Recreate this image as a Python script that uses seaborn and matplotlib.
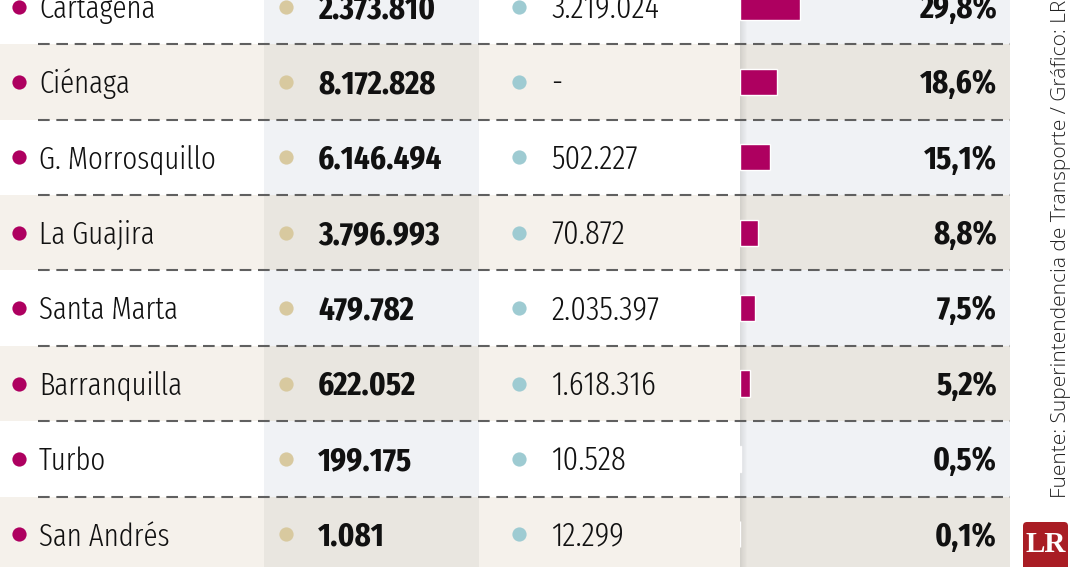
import matplotlib
matplotlib.use("Agg")
import matplotlib.pyplot as plt
from matplotlib.patches import Rectangle, FancyBboxPatch
import seaborn as sns
import pandas as pd

# datos
puertos = ["Cartagena", "Ciénaga", "G. Morrosquillo", "La Guajira",
           "Santa Marta", "Barranquilla", "Turbo", "San Andrés"]
carga_a = ["2.373.810", "8.172.828", "6.146.494", "3.796.993",
           "479.782", "622.052", "199.175", "1.081"]
carga_b = ["3.219.024", "-", "502.227", "70.872",
           "2.035.397", "1.618.316", "10.528", "12.299"]
participacion = [29.8, 18.6, 15.1, 8.8, 7.5, 5.2, 0.5, 0.1]
fuente = "Fuente: Superintendencia de Transporte / Gráfico: LR"

df = pd.DataFrame({"puerto": puertos, "participacion": participacion})

sns.set_style("white")
COND = ["Fira Sans Extra Condensed", "DejaVu Sans"]

MAGENTA = "#ae0060"
TAN = "#d8c99f"
BLUE = "#9ecbd2"
W, H = 1080, 567
ROW0, PITCH = 6.5, 75.4        # centre of first row and row pitch in px
y_top = -ROW0 / PITCH
y_bot = (H - ROW0) / PITCH

# column edges in px
c1, c2, c3, c4, c5 = 0, 264, 479, 740, 1010

fig = plt.figure(figsize=(W / 100, H / 100), dpi=100)
ax = fig.add_axes([0, 0, 1, 1])
ax.set_xlim(0, W)
ax.set_ylim(y_bot, y_top)
ax.axis("off")

for i, p in enumerate(puertos):
    beige = i % 2 == 1
    light = "#f5f1eb" if beige else "#ffffff"
    dark = "#e9e6e0" if beige else "#f0f2f5"
    for x0, x1, col in [(c1, c2, light), (c2, c3, dark), (c3, c4, light), (c4, c5, dark)]:
        ax.add_patch(Rectangle((x0, i - 0.5), x1 - x0, 1, color=col, lw=0, zorder=0))

# sombra del borde de la última columna
for k in range(7):
    ax.add_patch(Rectangle((c4 + k, y_top), 1, y_bot - y_top, color="black",
                           alpha=0.09 * (1 - k / 7), lw=0, zorder=1))

# separadores
for i in range(len(puertos) - 1):
    ax.plot([38, c5], [i + 0.5, i + 0.5], color="#606060", lw=1.5,
            dashes=(5.6, 3.2), zorder=2)

rows = list(range(len(puertos)))
ax.scatter([19] * len(rows), rows, s=105, color=MAGENTA, lw=0, zorder=3)
ax.scatter([286] * len(rows), rows, s=105, color=TAN, lw=0, zorder=3)
ax.scatter([519] * len(rows), rows, s=105, color=BLUE, lw=0, zorder=3)

base = 0.15
for i in rows:
    ax.text(39, i + base, puertos[i], fontsize=22.5, family=COND, weight=300,
            color="#111111", va="baseline", ha="left", zorder=4)
    ax.text(318, i + base, carga_a[i], fontsize=24, family=COND, weight="bold",
            color="#111111", va="baseline", ha="left", zorder=4)
    ax.text(551, i + base, carga_b[i], fontsize=24, family=COND, weight=300,
            color="#111111", va="baseline", ha="left", zorder=4)
    ax.text(997, i + base, f"{participacion[i]:.1f}%".replace(".", ","), fontsize=24,
            family=COND, weight="bold", color="#111111", va="baseline", ha="right", zorder=4)

# barras
bax = fig.add_axes([c4 / W, 0, (c5 - c4) / W, 1])
bax.patch.set_alpha(0)
sns.barplot(data=df, x="participacion", y="puerto", orient="h", color=MAGENTA,
            width=0.345, saturation=1, ax=bax)
bax.set_xlim(0, 135)
bax.set_ylim(y_bot, y_top)
bax.axis("off")

# fuente y logo
ax.text(1061, (498 - ROW0) / PITCH, fuente, rotation=90, fontsize=15,
        family=["Open Sans", "DejaVu Sans"], weight=300, color="#222222",
        ha="center", va="bottom", zorder=4)
ax.add_patch(FancyBboxPatch((1023, (522 - ROW0) / PITCH), 45, 1.0,
                            boxstyle="round,pad=0,rounding_size=4",
                            mutation_aspect=1 / PITCH, color="#a91d24", lw=0, zorder=4))
ax.text(1045.5, (545 - ROW0) / PITCH, "LR", fontsize=21, family=["Liberation Serif", "DejaVu Serif"],
        weight="bold", color="white", ha="center", va="center", zorder=5)

fig.savefig("out.png", dpi=100)
